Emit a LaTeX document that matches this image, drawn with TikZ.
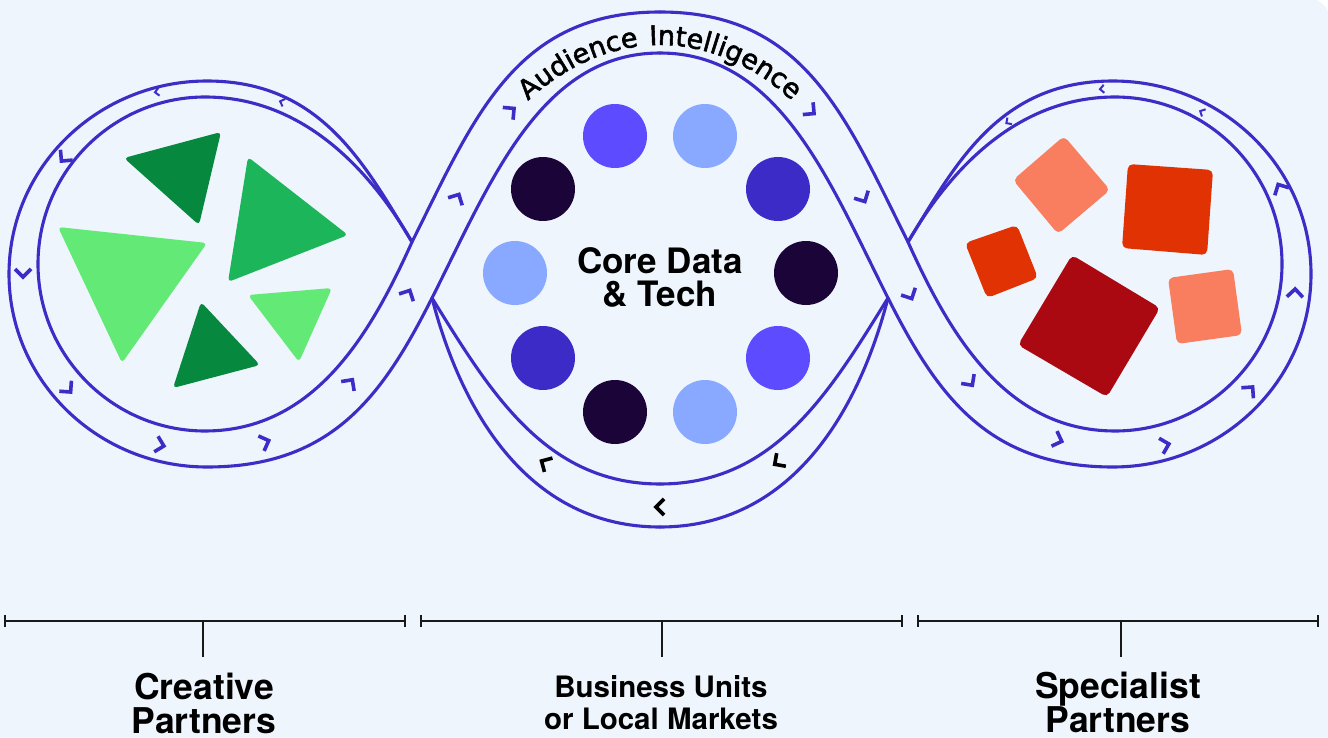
\documentclass[tikz,border=0pt]{standalone}
\usepackage{fontspec}
\setmainfont{TeX Gyre Heros}
\newfontfamily\arcfont[LetterSpace=9,FakeBold=2]{DejaVu Sans}
\usetikzlibrary{decorations.text}

\definecolor{bg}{HTML}{EEF5FD}
\definecolor{trackcol}{HTML}{3B2DC5}
\definecolor{cdark}{HTML}{1B0538}
\definecolor{cviolet}{HTML}{5C4BFF}
\definecolor{clight}{HTML}{88A9FF}
\definecolor{cindigo}{HTML}{3D2BC8}
\definecolor{gdark}{HTML}{06883F}
\definecolor{gmid}{HTML}{1DB55A}
\definecolor{glight}{HTML}{63E975}
\definecolor{ssalmon}{HTML}{F97E5F}
\definecolor{sorange}{HTML}{E03202}
\definecolor{sdark}{HTML}{AA0911}

\newcommand\arctext{\arcfont\fontsize{27}{27}\selectfont}

% one half of the double track; the other half is its mirror image
\newcommand\halftrack{%
  % outer line of the side loop
  \draw[track] (432,298) .. controls (382.5,396) and (332,467) .. (207,467)
    .. controls (98,467) and (9,381) .. (9,274)
    .. controls (9,167) and (98,81) .. (207,81)
    .. controls (322,81) and (365,165.5) .. (412,242);
  % inner line of the side loop
  \draw[track] (412,242) .. controls (371,333) and (315,431) .. (205,431)
    .. controls (113,431) and (38,356) .. (38,264)
    .. controls (38,172) and (113,97) .. (205,97)
    .. controls (305,97) and (372,173) .. (412,242);
  % middle loop, upper arcs
  \draw[track] (412,242) .. controls (474.6,116.8) and (515,12) .. (660,12);
  \draw[track] (432,298) .. controls (490.5,182.3) and (540,53) .. (660,53);
  % middle loop, lower arcs
  \draw[track] (432,298) .. controls (462,414) and (530,527) .. (660,527);
  \draw[track] (432,298) .. controls (490,391.5) and (545,484) .. (660,484);
}

\tikzset{
  track/.style={draw=trackcol, line width=3.1pt, line cap=round},
  dot/.style={circle, minimum size=64pt, inner sep=0pt},
  tri/.style={rounded corners=4pt},
  sq/.style={rounded corners=5pt},
  brk/.style={draw=black!90, line width=2.2pt},
  lbl/.style={font=\fontsize{35.5}{35.5}\selectfont\bfseries, inner sep=0pt, anchor=base},
  lblsmall/.style={font=\fontsize{29.5}{29.5}\selectfont\bfseries, inner sep=0pt, anchor=base},
  coretext/.style={font=\fontsize{35}{35}\selectfont\bfseries, inner sep=0pt, anchor=base},
  trackmark/.pic={\draw[line width=3.6pt, line cap=butt, line join=miter] (-4,8) -- (4,0) -- (-4,-8);},
  trackmarksmall/.pic={\draw[line width=2pt, line cap=butt, line join=miter] (-2,4) -- (2,0) -- (-2,-4);},
}

\begin{document}
\begin{tikzpicture}[x=1pt,y=-1pt]
\useasboundingbox (0,0) rectangle (1328,738);
\fill[white] (0,0) rectangle (1328,738);
\fill[bg, rounded corners=30pt] (-40,-4) rectangle (1332,780);

% double track
\halftrack
\begin{scope}[xshift=1320pt, xscale=-1]
  \halftrack
\end{scope}

% direction marks, left loop
\begin{scope}[color=trackcol]
  \pic[rotate=188] at (157,92) {trackmarksmall};
  \pic[rotate=160] at (282,102) {trackmarksmall};
  \pic[rotate=230] at (64,158) {trackmark};
  \pic[rotate=270] at (23,273) {trackmark};
  \pic[rotate=311] at (68,389) {trackmark};
  \pic[rotate=346] at (160,445) {trackmark};
  \pic[rotate=21] at (265,442) {trackmark};
  \pic[rotate=54] at (350,383) {trackmark};
  \pic[rotate=63] at (408,294) {trackmark};
  % middle loop, top
  \pic[rotate=62] at (457,198) {trackmark};
  \pic[rotate=40] at (511,111) {trackmark};
  \pic[rotate=320] at (811,111) {trackmark};
  \pic[rotate=298] at (863,198) {trackmark};
  % right loop
  \pic[rotate=297] at (910,295) {trackmark};
  \pic[rotate=306] at (970,382) {trackmark};
  \pic[rotate=340] at (1058,440) {trackmark};
  \pic[rotate=15] at (1165,445) {trackmark};
  \pic[rotate=49] at (1250,390) {trackmark};
  \pic[rotate=88] at (1295,293) {trackmark};
  \pic[rotate=118] at (1280,188) {trackmark};
  \pic[rotate=153] at (1202,112) {trackmarksmall};
  \pic[rotate=185] at (1102,89) {trackmarksmall};
  \pic[rotate=215] at (1008,122) {trackmarksmall};
\end{scope}
% middle loop, bottom
\begin{scope}[color=black]
  \pic[rotate=150] at (545,463) {trackmark};
  \pic[rotate=180] at (660,507) {trackmark};
  \pic[rotate=215] at (778,462) {trackmark};
\end{scope}

% label along the upper arc
\path[decorate, decoration={text along path, text align=center,
      text={|\arctext|Audience Intelligence}}]
  (488,152) .. controls (523,90) and (590,45) .. (660,45)
  .. controls (730,45) and (797,90) .. (832,152);

% ring of dots around the core
\node[dot, fill=cdark]   (d1)  at (543,189) {};
\node[dot, fill=cviolet] (d2)  at (615,136) {};
\node[dot, fill=clight]  (d3)  at (705,136) {};
\node[dot, fill=cindigo] (d4)  at (778,189) {};
\node[dot, fill=cdark]   (d5)  at (806,273) {};
\node[dot, fill=cviolet] (d6)  at (778,358) {};
\node[dot, fill=clight]  (d7)  at (705,412) {};
\node[dot, fill=cdark]   (d8)  at (615,412) {};
\node[dot, fill=cindigo] (d9)  at (543,358) {};
\node[dot, fill=clight]  (d10) at (515,273) {};

\node[coretext] (core1) at (660,273) {Core Data};
\node[coretext] (core2) at (660,306) {\& Tech};

% triangles
\fill[tri, gdark]  (124,158) -- (221,132) -- (199,225) -- cycle;
\fill[tri, gmid]   (248,157) -- (348,235) -- (228,282) -- cycle;
\fill[tri, glight] (58,227) -- (207,243) -- (122,363) -- cycle;
\fill[tri, gdark]  (201,302) -- (260,365) -- (173,388) -- cycle;
\fill[tri, glight] (248,295) -- (332,288) -- (299,362) -- cycle;

% squares
\fill[sq, ssalmon] (1064,136) -- (1110,190) -- (1058,234) -- (1013,180) -- cycle;
\fill[sq, sorange] (1128,164) -- (1213,170) -- (1207,255) -- (1122,248) -- cycle;
\fill[sq, sorange] (965,243) -- (1017,225) -- (1038,278) -- (987,298) -- cycle;
\fill[sq, sdark]   (1072,255) -- (1160,308) -- (1107,397) -- (1018,345) -- cycle;
\fill[sq, ssalmon] (1168,278) -- (1233,269) -- (1242,335) -- (1177,344) -- cycle;

% brackets
\draw[brk] (5,615) -- (5,627) (5,621) -- (405,621) (405,615) -- (405,627) (203,621) -- (203,657);
\draw[brk] (421,615) -- (421,627) (421,621) -- (902,621) (902,615) -- (902,627) (662,621) -- (662,657);
\draw[brk] (918,615) -- (918,627) (918,621) -- (1318,621) (1318,615) -- (1318,627) (1121,621) -- (1121,657);

% labels
\node[lbl] (cr1) at (204,699) {Creative};
\node[lbl] (cr2) at (204,733) {Partners};
\node[lblsmall] (bu1) at (661,697) {Business Units};
\node[lblsmall] (bu2) at (661,729) {or Local Markets};
\node[lbl] (sp1) at (1118,698) {Specialist};
\node[lbl] (sp2) at (1118,732) {Partners};
\end{tikzpicture}
\end{document}
